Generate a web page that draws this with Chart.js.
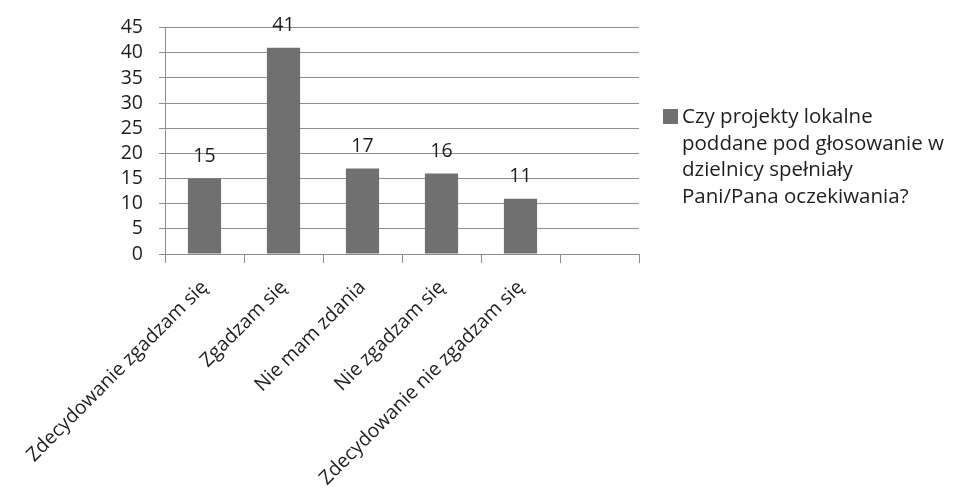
<!DOCTYPE html>
<html>
<head>
<meta charset="utf-8">
<script src="https://cdn.jsdelivr.net/npm/chart.js@4/dist/chart.umd.min.js"></script>
<style>
  html, body { margin: 0; padding: 0; background: #ffffff; }
  #wrap { width: 953px; height: 496px; position: relative; }
</style>
</head>
<body>
<div id="wrap"><canvas id="chart" width="953" height="496"></canvas></div>
<script>
// Survey answers (the sixth slot is left empty on the axis)
const categories = [
  'Zdecydowanie zgadzam się',
  'Zgadzam się',
  'Nie mam zdania',
  'Nie zgadzam się',
  'Zdecydowanie nie zgadzam się',
  ''
];
const answers = [15, 41, 17, 16, 11, null];
const seriesLabelLines = [
  'Czy projekty lokalne',
  'poddane pod głosowanie w',
  'dzielnicy spełniały',
  'Pani/Pana oczekiwania?'
];
const yTicks = [0, 5, 10, 15, 20, 25, 30, 35, 40, 45];

const FONT = '"Open Sans", Lato, sans-serif';
const TEXT = '#1e1e1e';
const BAR = '#707070';
const GRID = '#8e8e8e';

// Value written above each bar
const valueLabels = {
  id: 'valueLabels',
  afterDatasetsDraw(chart) {
    const ctx = chart.ctx;
    const meta = chart.getDatasetMeta(0);
    ctx.save();
    ctx.font = '19.5px ' + FONT;
    ctx.fillStyle = TEXT;
    ctx.textAlign = 'center';
    ctx.textBaseline = 'middle';
    meta.data.forEach((bar, i) => {
      const v = chart.data.datasets[0].data[i];
      if (v === null || v === undefined) return;
      ctx.fillText(String(v), bar.x, bar.y - 22);
    });
    ctx.restore();
  }
};

// Legend to the right of the plot, wrapped over several lines
const sideLegend = {
  id: 'sideLegend',
  afterDraw(chart) {
    const ctx = chart.ctx;
    const x0 = chart.chartArea.right + 24;
    const y0 = 109;
    ctx.save();
    ctx.fillStyle = BAR;
    ctx.fillRect(x0, y0, 15, 15);
    ctx.font = '20.5px ' + FONT;
    ctx.fillStyle = TEXT;
    ctx.textAlign = 'left';
    ctx.textBaseline = 'alphabetic';
    seriesLabelLines.forEach((line, i) => {
      ctx.fillText(line, x0 + 19, y0 + 14 + i * 26.5);
    });
    ctx.restore();
  }
};

new Chart(document.getElementById('chart'), {
  type: 'bar',
  data: {
    labels: categories,
    datasets: [{
      label: seriesLabelLines.join(' '),
      data: answers,
      backgroundColor: BAR,
      borderWidth: 0,
      categoryPercentage: 0.84,
      barPercentage: 0.5
    }]
  },
  options: {
    responsive: false,
    animation: false,
    layout: { padding: { top: 26, right: 314, left: 0, bottom: 0 } },
    plugins: {
      legend: { display: false },
      tooltip: { enabled: false }
    },
    scales: {
      x: {
        grid: {
          offset: true,
          drawOnChartArea: false,
          drawTicks: true,
          tickLength: 9,
          color: GRID
        },
        border: { color: GRID, width: 1 },
        ticks: {
          minRotation: 45,
          maxRotation: 45,
          autoSkip: false,
          padding: 13,
          color: TEXT,
          font: { family: FONT, size: 19.5 }
        },
        afterFit(scale) {
          scale.height = 242;
          scale.paddingLeft = 0;
          scale.paddingRight = 0;
        }
      },
      y: {
        min: 0,
        max: 45,
        afterBuildTicks(scale) {
          scale.ticks = yTicks.map(v => ({ value: v }));
        },
        grid: {
          color: GRID,
          drawTicks: true,
          tickLength: 6
        },
        border: { color: GRID, width: 1 },
        ticks: {
          autoSkip: false,
          padding: 16,
          color: TEXT,
          font: { family: FONT, size: 19.5 }
        },
        afterFit(scale) {
          scale.width = 165;
        }
      }
    }
  },
  plugins: [valueLabels, sideLegend]
});
</script>
</body>
</html>
